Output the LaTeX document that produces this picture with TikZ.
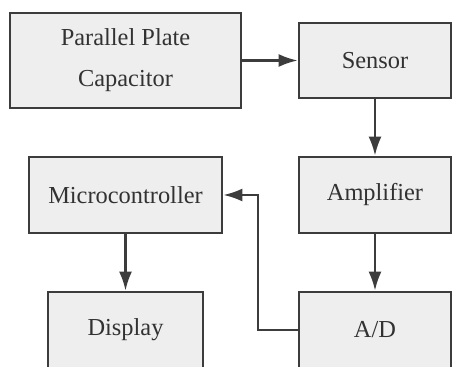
\documentclass[tikz,border=0pt]{standalone}
\usepackage{fontspec}
\setmainfont{Liberation Serif}
\usetikzlibrary{arrows.meta,positioning}
\definecolor{blkGray}{RGB}{60,60,60}
\definecolor{blkFill}{RGB}{238,238,238}
\definecolor{blkText}{RGB}{50,50,50}

\begin{document}
\begin{tikzpicture}[x=0.5pt,y=-0.5pt,
  block/.style={draw=blkGray, fill=blkFill, line width=1.4pt, text=blkText,
    font=\fontsize{12.2}{20.5}\selectfont, align=center, inner sep=0pt},
  link/.style={draw=blkGray, line width=1.1pt, -{Latex[length=9.5pt,width=6.5pt]}}]
\useasboundingbox (0,0) rectangle (452,367);

\node[block, minimum width=115.5pt, minimum height=47.5pt] (cap) at (125.5,60.5) {Parallel Plate\\Capacitor};
\node[block, minimum width=76pt, minimum height=37.5pt] (sensor) at (375,60.5) {Sensor};
\node[block, minimum width=76pt, minimum height=38pt] (amp) at (375,195) {Amplifier};
\node[block, minimum width=96.5pt, minimum height=38pt] (mcu) at (125.5,195) {Microcontroller};
\node[block, minimum width=77.5pt, minimum height=38pt] (disp) at (125.5,330) {Display};
\node[block, minimum width=76pt, minimum height=38pt] (adc) at (375,330) {A/D};
\coordinate (bend) at (258,195);

\draw[link] (cap) -- (sensor);
\draw[link] (sensor) -- (amp);
\draw[link] (amp) -- (adc);
\draw[link] (mcu) -- (disp);
\draw[link] (adc.west) -| (bend) -- (mcu.east);
\end{tikzpicture}
\end{document}
